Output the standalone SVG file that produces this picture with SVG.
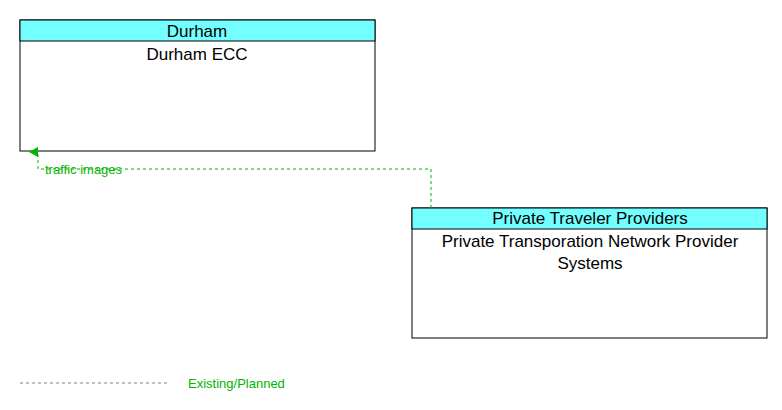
<svg xmlns="http://www.w3.org/2000/svg" width="782" height="410" viewBox="0 0 782 410">
<style>
.box{fill:#fff;stroke:#000;stroke-width:1}
.hdr{fill:#73ffff;stroke:#000;stroke-width:1}
.t{font-family:"Liberation Sans",Arial,sans-serif;font-size:17px;fill:#000;text-anchor:middle}
.lbl{font-family:"Liberation Sans",Arial,sans-serif;font-size:13px;fill:#00b400}
.flow{fill:none;stroke:#00b400;stroke-width:1;stroke-dasharray:3,3}
</style>
<defs><marker id="ah" markerWidth="10" markerHeight="10" refX="5" refY="9" orient="auto" markerUnits="userSpaceOnUse"><path d="M0,9 L5,0 L10,9 Z" fill="#00b400"/></marker></defs>
<rect width="782" height="410" fill="#fff"/>
<g id="durham">
<rect class="box" x="20" y="20" width="355" height="131"/>
<rect class="hdr" x="20" y="20" width="355" height="21"/>
<text class="t" x="197" y="37">Durham</text>
<text class="t" x="197" y="60">Durham ECC</text>
</g>
<g id="private">
<rect class="box" x="412" y="208" width="355" height="130"/>
<rect class="hdr" x="412" y="208" width="355" height="21"/>
<text class="t" x="590" y="224">Private Traveler Providers</text>
<text class="t" x="590" y="247">Private Transporation Network Provider</text>
<text class="t" x="590" y="269">Systems</text>
</g>
<g id="connectors">
<path class="flow" d="M431,208 V169 H38 V152" marker-end="url(#ah)"/>
<text class="lbl" x="45" y="174">traffic images</text>
</g>
<g id="legend">
<line x1="20" y1="383" x2="167" y2="383" stroke="#808080" stroke-dasharray="3,3"/>
<text class="lbl" x="188" y="388">Existing/Planned</text>
</g>
</svg>
